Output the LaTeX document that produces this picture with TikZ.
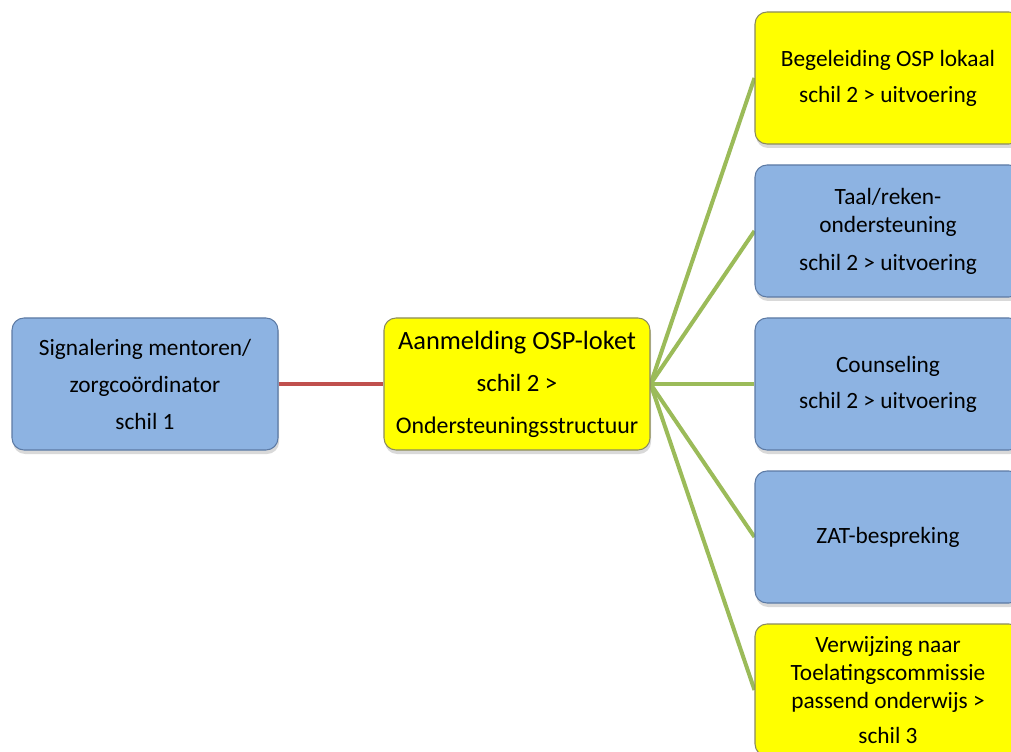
\documentclass[tikz,border=0pt]{standalone}
\usepackage{fontspec}
\setmainfont{Carlito}
\usetikzlibrary{shadows,backgrounds}
\definecolor{boxblue}{RGB}{141,179,226}
\definecolor{boxblueline}{RGB}{92,122,164}
\definecolor{boxyellow}{RGB}{255,255,0}
\definecolor{boxyellowline}{RGB}{138,138,96}
\definecolor{linkred}{RGB}{192,80,77}
\definecolor{linkgreen}{RGB}{155,187,89}
\begin{document}
\begin{tikzpicture}[x=0.75pt,y=-0.75pt,
  box/.style={rounded corners=9pt,minimum width=199.5pt,minimum height=99pt,
    align=center,line width=0.8pt,inner sep=0pt,
    font=\fontsize{17.5}{21}\selectfont,
    drop shadow={shadow xshift=0.8pt,shadow yshift=-3pt,opacity=0.3}},
  bluebox/.style={box,fill=boxblue,draw=boxblueline},
  yellowbox/.style={box,fill=boxyellow,draw=boxyellowline},
  redlink/.style={draw=linkred,line width=3pt},
  greenlink/.style={draw=linkgreen,line width=3pt}]
  \useasboundingbox (0,0) rectangle (1011,752);
  \path node[bluebox] (sig) at (145,384)
        {Signalering mentoren/\\[6.75pt]zorgcoördinator\\[6.75pt]schil 1};
  \path node[yellowbox,font=\fontsize{18.6}{23}\selectfont] (aanm) at (517,384)
        {{\fontsize{19.8}{23}\selectfont Aanmelding OSP-loket}\\[8.5pt]schil 2 \textgreater\\[8.5pt]{\fontsize{17.9}{23}\selectfont Ondersteuningsstructuur}};
  % right column
  \path node[yellowbox] (beg)  at (888,78)
        {Begeleiding OSP lokaal\\[6pt]schil 2 \textgreater{} uitvoering};
  \path node[bluebox]   (taal) at (888,231)
        {Taal/reken-\\ondersteuning\\[7.5pt]schil 2 \textgreater{} uitvoering};
  \path node[bluebox]   (coun) at (888,384)
        {Counseling\\[6pt]schil 2 \textgreater{} uitvoering};
  \path node[bluebox]   (zat)  at (888,537) {ZAT-bespreking};
  \path node[yellowbox] (verw) at (888,690)
        {Verwijzing naar\\Toelatingscommissie\\passend onderwijs \textgreater\\[5.25pt]schil 3};
  \begin{scope}[on background layer]
    \draw[redlink] (sig.east) -- (aanm.west);
    \foreach \n in {beg,taal,coun,zat,verw}
      \draw[greenlink] (aanm.east) -- (\n.west);
  \end{scope}
\end{tikzpicture}
\end{document}
